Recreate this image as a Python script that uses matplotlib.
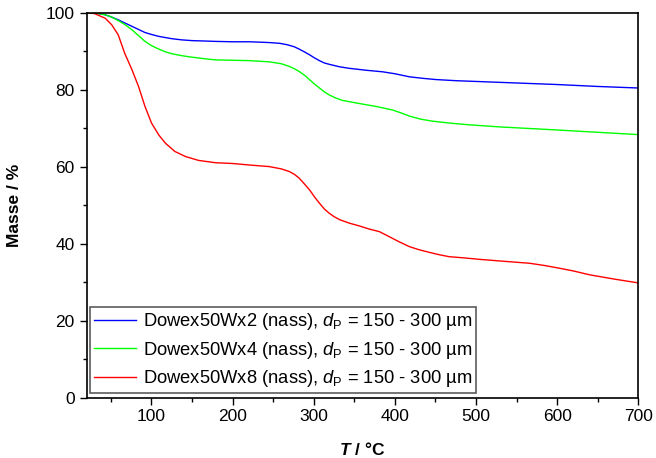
import matplotlib
matplotlib.use('Agg')
import matplotlib.pyplot as plt
from matplotlib.ticker import MultipleLocator

plt.rcParams['font.family'] = 'Liberation Sans'
plt.rcParams['mathtext.fontset'] = 'custom'
plt.rcParams['mathtext.rm'] = 'Liberation Sans'
plt.rcParams['mathtext.it'] = 'Liberation Sans:italic'
plt.rcParams['mathtext.bfit'] = 'Liberation Sans:italic:bold'

# temperature / mass readings
T_x2 = [20, 30, 43, 51, 59, 67, 76, 84, 92, 100, 109, 117, 125, 137, 150, 165, 179,
        200, 221, 245, 258, 268, 276, 282, 290, 295, 301, 307, 313, 320, 332, 344,
        365, 385, 400, 418, 435, 450, 475, 500, 550, 600, 650, 700]
m_x2 = [100, 99.9, 99.4, 98.8, 98.1, 97.3, 96.4, 95.6, 94.8, 94.3, 93.8, 93.5, 93.2,
        92.9, 92.7, 92.6, 92.5, 92.4, 92.4, 92.2, 92.0, 91.6, 91.1, 90.5, 89.6, 89.0,
        88.2, 87.5, 86.9, 86.5, 85.9, 85.5, 85.0, 84.6, 84.1, 83.3, 82.9, 82.6, 82.3,
        82.1, 81.7, 81.3, 80.8, 80.4]

T_x4 = [20, 30, 43, 51, 59, 67, 76, 84, 92, 100, 109, 117, 125, 137, 150, 165, 179,
        200, 221, 245, 260, 270, 276, 282, 290, 295, 301, 307, 313, 319, 327, 335,
        350, 377, 397, 408, 418, 432, 446, 467, 488, 529, 600, 650, 700]
m_x4 = [100, 99.9, 99.4, 98.8, 97.9, 96.9, 95.5, 94.0, 92.5, 91.4, 90.5, 89.8, 89.3,
        88.8, 88.4, 88.0, 87.7, 87.6, 87.5, 87.2, 86.7, 86.0, 85.4, 84.7, 83.5, 82.5,
        81.4, 80.4, 79.4, 78.6, 77.8, 77.2, 76.6, 75.6, 74.7, 73.9, 73.1, 72.3, 71.8,
        71.3, 70.9, 70.3, 69.5, 68.9, 68.3]

T_x8 = [20, 30, 43, 51, 59, 67, 76, 84, 92, 100, 109, 117, 129, 142, 158, 179, 200,
        221, 245, 260, 270, 276, 282, 288, 295, 301, 307, 313, 319, 325, 332, 344,
        356, 368, 381, 393, 405, 418, 430, 443, 455, 467, 485, 505, 535, 566, 585,
        603, 620, 640, 670, 700]
m_x8 = [100, 99.7, 98.5, 96.8, 94.2, 89.4, 85.1, 80.8, 75.6, 71.3, 68.2, 66.1, 63.9,
        62.6, 61.6, 61.0, 60.8, 60.4, 60.0, 59.4, 58.7, 58.0, 57.0, 55.6, 53.9, 52.1,
        50.5, 49.0, 47.9, 47.0, 46.2, 45.3, 44.6, 43.8, 43.1, 41.8, 40.5, 39.2, 38.4,
        37.7, 37.1, 36.6, 36.3, 35.9, 35.4, 34.9, 34.3, 33.6, 32.9, 31.9, 30.8, 29.8]

labels = [r'Dowex50Wx2 (nass), $\mathit{d}_\mathrm{P}$ = 150 - 300 µm',
          r'Dowex50Wx4 (nass), $\mathit{d}_\mathrm{P}$ = 150 - 300 µm',
          r'Dowex50Wx8 (nass), $\mathit{d}_\mathrm{P}$ = 150 - 300 µm']

fig = plt.figure(figsize=(6.56, 4.58), dpi=100)
ax = fig.add_axes([0.132, 0.1317, 0.841, 0.841])

ax.plot(T_x2, m_x2, color='#0000ff', lw=1.0, label=labels[0])
ax.plot(T_x4, m_x4, color='#00ff00', lw=1.0, label=labels[1])
ax.plot(T_x8, m_x8, color='#ff0000', lw=1.0, label=labels[2])

ax.set_xlim(20, 700)
ax.set_ylim(0, 100)
ax.xaxis.set_major_locator(MultipleLocator(100))
ax.xaxis.set_minor_locator(MultipleLocator(50))
ax.yaxis.set_major_locator(MultipleLocator(20))
ax.yaxis.set_minor_locator(MultipleLocator(10))
ax.tick_params(which='major', direction='out', length=5, width=1, labelsize=12.5)
ax.tick_params(which='minor', direction='out', length=3, width=1)
for s in ax.spines.values():
    s.set_linewidth(1.2)

ax.set_xlabel(r'$\mathbfit{T}$ / °C', fontsize=12.5, fontweight='bold')
ax.set_ylabel('Masse / %', fontsize=12.5, fontweight='bold')
ax.xaxis.set_label_coords(0.5, -0.113)
ax.yaxis.set_label_coords(-0.117, 0.5)

leg = ax.legend(loc='lower left', bbox_to_anchor=(0.007, 0.012), borderaxespad=0,
                fontsize=13.2, frameon=True, fancybox=False, handlelength=2.3,
                handletextpad=0.35, labelspacing=0.42, borderpad=0.2)
leg.get_frame().set_edgecolor('#333333')
leg.get_frame().set_linewidth(1.2)

fig.savefig('out.png', dpi=100)
